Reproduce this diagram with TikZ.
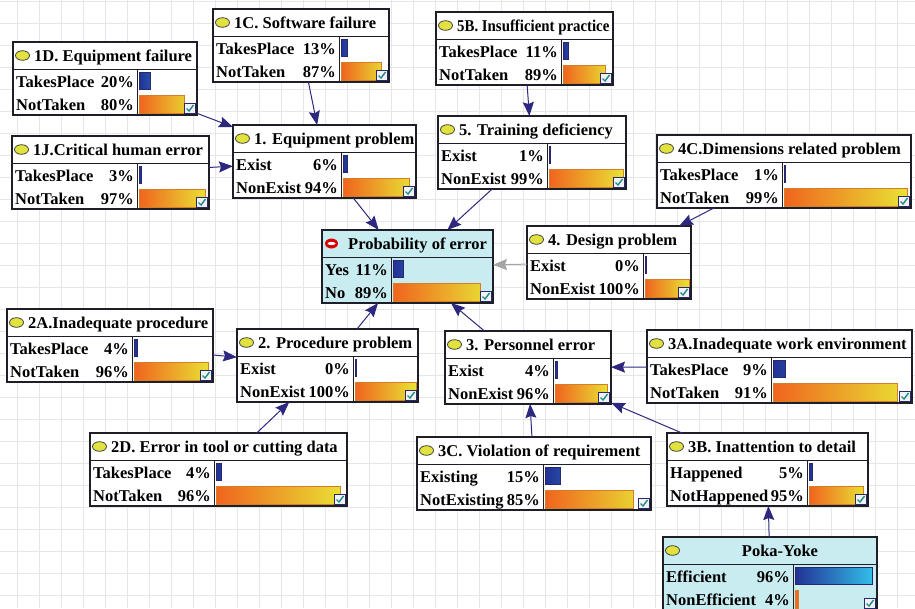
\documentclass[tikz,border=0pt]{standalone}
\usepackage{fontspec}
\setmainfont{Liberation Serif}
\usetikzlibrary{arrows.meta}

\definecolor{arrownavy}{RGB}{45,40,125}
\definecolor{arrowgray}{RGB}{165,165,165}
\definecolor{ovalyellow}{RGB}{226,226,62}
\definecolor{nodecyan}{RGB}{200,236,240}
\definecolor{barorange}{RGB}{240,100,30}
\definecolor{baryellow}{RGB}{232,228,52}
\definecolor{orangeedge}{RGB}{214,125,40}
\definecolor{bluedark}{RGB}{35,50,150}
\definecolor{bluelight}{RGB}{50,195,235}
\definecolor{navyedge}{RGB}{40,40,110}
\definecolor{checkteal}{RGB}{30,140,140}
\definecolor{gridgray}{RGB}{230,230,230}
\definecolor{frameline}{RGB}{30,30,40}

\tikzset{
  bnframe/.style={draw=frameline, line width=1.1pt, rectangle, inner sep=0pt, outer sep=0pt},
  bnrule/.style={draw=frameline, line width=1pt},
  bntext/.style={font=\fontsize{16.5}{18}\selectfont\bfseries, inner sep=0pt, text=black},
  bntitle/.style={bntext},
  bnarrow/.style={draw=arrownavy, line width=1pt, -{Stealth[length=14pt,width=11pt,inset=2pt]}},
  bngrayarrow/.style={bnarrow, draw=arrowgray},
}

\newif\ifbncyan
\newif\ifbnred
\newif\ifbncenter
\def\bnto{21}
\def\bnparse#1,#2,#3,#4\relax{\def\bx{#1}\def\by{#2}\def\bX{#3}\def\bd{#4}}

% #1 name, #2 {left,top,right,divider}, #3 title, #4/#5 first state and percent, #6/#7 second state and percent
\newcommand\bnnode[7]{%
  \bnparse#2\relax
  \pgfmathsetmacro\bw{\bX-\bx}%
  \pgfmathsetmacro\bt{\by+27}%
  \pgfmathsetmacro\bY{\by+73}%
  \ifbncyan\def\bnfill{nodecyan}\else\def\bnfill{white}\fi
  \node[bnframe, fill=\bnfill, minimum width=\bw pt, minimum height=73pt, anchor=north west] (#1) at (\bx,\by) {};
  \draw[bnrule] (\bx,\bt) -- (\bX,\bt);
  \draw[bnrule] (\bd,\bt) -- (\bd,\bY);
  \ifbnred
    \fill[red!85!black] (\bx+9.5,\by+13.5) ellipse [x radius=6.5pt, y radius=5pt];
    \fill[white] (\bx+9.5,\by+13.5) ellipse [x radius=4pt, y radius=1.6pt];
  \else
    \draw[draw=black!75, fill=ovalyellow, line width=0.8pt] (\bx+9.5,\by+13.5) ellipse [x radius=7pt, y radius=4.8pt];
  \fi
  \ifbncenter
    \node[bntitle, anchor=base] at ({(\bx+20+\bX)/2},\by+19) {#3};
  \else
    \node[bntitle, anchor=base west] at (\bx+\bnto,\by+19) {#3};
  \fi
  \pgfmathsetmacro\bwa{max(1.6,(\bX-\bd-4)*#5/100)}%
  \pgfmathsetmacro\bwb{max(1.6,(\bX-\bd-4)*#7/100)}%
  \path[draw=navyedge, line width=0.6pt, left color=bluedark, right color=bluelight!#5!bluedark]
    (\bd+2,\bt+3) rectangle ++(\bwa,17);
  \path[draw=orangeedge, line width=0.6pt, left color=barorange, right color=baryellow!#7!barorange]
    (\bd+2,\bt+26) rectangle ++(\bwb,18.5);
  \draw[draw=navyedge, fill=white!90!gray, line width=0.7pt] (\bX-12.5,\bY-12) rectangle (\bX-1.5,\bY-1.5);
  \draw[checkteal, line width=1.4pt] (\bX-10.5,\bY-6.5) -- (\bX-8,\bY-4) -- (\bX-3.5,\bY-10);
  \node[bntext, anchor=base west] at (\bx+3,\bt+18) {#4};
  \node[bntext, anchor=base east] at (\bd-3,\bt+18) {#5\%};
  \node[bntext, anchor=base west] at (\bx+3,\bt+41) {#6};
  \node[bntext, anchor=base east] at (\bd-3,\bt+41) {#7\%};
}

\begin{document}
\begin{tikzpicture}[x=1pt,y=-1pt]
  \useasboundingbox (0,0) rectangle (915,608);
  \fill[white] (0,0) rectangle (915,608);
  % background grid
  \foreach \gx in {17,39,...,915} \draw[gridgray, line width=0.7pt] (\gx,0) -- (\gx,608);
  \foreach \gy in {1,23,...,608} \draw[gridgray, line width=0.7pt] (0,\gy) -- (915,\gy);

  % nodes
  \bnnode{n1D}{13,42,197,137}{1D. Equipment failure}{TakesPlace}{20}{NotTaken}{80}
  \bnnode{n1C}{213,9,389,339}{1C. Software failure}{TakesPlace}{13}{NotTaken}{87}
  \bnnode{n1J}{12,136,209,137}{1J.Critical human error}{TakesPlace}{3}{NotTaken}{97}
  \bnnode{n1}{233,125,416,341}{1. Equipment problem}{Exist}{6}{NonExist}{94}
  \bnnode{n5B}{436,12,613,561}{\scalebox{0.9}[1]{5B. Insufficient practice}}{TakesPlace}{11}{NotTaken}{89}
  \bnnode{n5}{438,116,626,547}{5. Training deficiency}{Exist}{1}{NonExist}{99}
  \bnnode{n4C}{657,135,911,782}{4C.Dimensions related problem}{TakesPlace}{1}{NotTaken}{99}
  \bnnode{n4}{527,226,691,643}{4. Design problem}{Exist}{0}{NonExist}{100}
  \bncyantrue\bnredtrue\def\bnto{26}
  \bnnode{nP}{322,230,493,391}{Probability of error}{Yes}{11}{No}{89}
  \bncyanfalse\bnredfalse\def\bnto{21}
  \bnnode{n2A}{7,309,213,132}{2A.Inadequate procedure}{TakesPlace}{4}{NotTaken}{96}
  \bnnode{n2}{237,329,418,353}{2. Procedure problem}{Exist}{0}{NonExist}{100}
  \bnnode{n2D}{90,433,347,214}{2D. Error in tool or cutting data}{TakesPlace}{4}{NotTaken}{96}
  \bnnode{n3}{445,331,611,553}{3. Personnel error}{Exist}{4}{NonExist}{96}
  \bnnode{n3A}{647,330,912,771}{3A.Inadequate work environment}{TakesPlace}{9}{NotTaken}{91}
  \bnnode{n3C}{417,437,651,543}{3C. Violation of requirement}{Existing}{15}{NotExisting}{85}
  \bnnode{n3B}{667,433,868,807}{3B. Inattention to detail}{Happened}{5}{NotHappened}{95}
  \bncyantrue\bncentertrue
  \bnnode{nPY}{663,537,877,793}{Poka-Yoke}{Efficient}{96}{NonEfficient}{4}
  \bncyanfalse\bncenterfalse

  % links
  \draw[bnarrow] (n1D) -- (n1);
  \draw[bnarrow] (n1C) -- (n1);
  \draw[bnarrow] (n1J) -- (n1);
  \draw[bnarrow] (n5B) -- (n5);
  \draw[bnarrow] (n4C) -- (n4);
  \draw[bnarrow] (n1) -- (nP);
  \draw[bnarrow] (n5) -- (nP);
  \draw[bngrayarrow] (n4) -- (nP);
  \draw[bnarrow] (n2) -- (nP);
  \draw[bnarrow] (n3) -- (nP);
  \draw[bnarrow] (n2A) -- (n2);
  \draw[bnarrow] (n2D) -- (n2);
  \draw[bnarrow] (n3A) -- (n3);
  \draw[bnarrow] (n3C) -- (n3);
  \draw[bnarrow] (n3B) -- (n3);
  \draw[bnarrow] (nPY) -- (n3B);
\end{tikzpicture}
\end{document}
